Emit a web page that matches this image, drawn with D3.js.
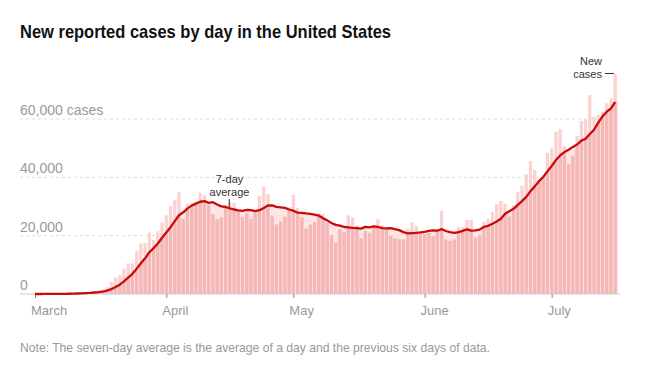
<!DOCTYPE html>
<html>
<head>
<meta charset="utf-8">
<script src="https://cdn.jsdelivr.net/npm/d3@7"></script>
<style>
  body { margin: 0; background: #fff; }
  text { font-family: "Liberation Sans", Arial, sans-serif; }
</style>
</head>
<body>
<script>
// new reported cases per day, starting March 1
const marchCases = [10, 20, 25, 30, 60, 80, 100, 120, 190, 290, 380, 480, 650, 700, 950, 1200,
    1600, 2300, 4200, 5700, 6500, 8700, 10500, 10500, 14700, 17300, 17500, 21100, 18500, 21500, 24500];
const aprilCases = [27000, 30200, 32200, 35000, 25700, 30900, 31100, 31800, 34700, 33900, 30500, 27400,
    25600, 26300, 30400, 31300, 31300, 28500, 26300, 27700, 25800, 27900, 33600, 36800, 34300, 26800,
    23800, 24800, 26500, 29800];
const mayCases = [34000, 29500, 26300, 22400, 23800, 24600, 27700, 27500, 24400, 20200, 17600, 22200,
    21200, 27000, 26200, 23600, 19100, 21700, 21000, 23600, 25600, 23600, 22700, 20000, 19100, 18800,
    18700, 22400, 24600, 23300, 21000];
const juneCases = [20500, 20900, 19900, 21700, 28500, 18700, 18200, 18700, 22900, 22900, 25400, 25400,
    19300, 20200, 24800, 25700, 28000, 30800, 31900, 31000, 26500, 30400, 35100, 37100, 41100, 45600,
    42500, 39000, 40500, 48400];
const julyCases = [49900, 55600, 56600, 50700, 44500, 47300, 54200, 59300, 59900, 68200, 60800, 61400,
    62500, 65400, 67100, 75400];

// 7-day average, as drawn
const marchAvg = [0, 0, 10, 10, 20, 30, 50, 60, 90, 120, 170, 230, 320, 400, 520, 660, 850, 1130, 1660,
    2380, 3210, 4310, 5640, 6910, 8690, 10560, 12240, 14330, 15730, 17300, 19300];
const aprilAvg = [21060, 22900, 25000, 26990, 28010, 29360, 30300, 30990, 31630, 31870, 31230, 31470,
    30710, 30030, 29830, 29340, 28970, 28690, 28530, 28830, 28760, 28400, 28730, 29510, 30340, 30410,
    29860, 29710, 29510, 28970];
const mayAvg = [28570, 27890, 27810, 27610, 27470, 27200, 26900, 25970, 25240, 24370, 23690, 23460,
    22970, 22870, 22690, 22570, 22410, 23000, 22830, 23170, 22970, 22600, 22470, 22600, 22230, 21910,
    21210, 20760, 20900, 20990, 21130];
const juneAvg = [21330, 21630, 21800, 21700, 22260, 21600, 21200, 20940, 21230, 21660, 22190, 21740,
    21830, 22110, 22990, 23390, 24110, 24890, 25810, 27490, 28390, 29190, 30530, 31830, 33300, 35260,
    36900, 38690, 40130, 42030];
const julyAvg = [43860, 45930, 47500, 48670, 49460, 50430, 51260, 52600, 53210, 54870, 56310, 58730,
    60900, 62500, 63610, 65830];

const monthLabels = ["March", "April", "May", "June", "July"];
const yTicks = [0, 20000, 40000, 60000];

const startDate = new Date(2020, 2, 1);
const svgWidth = 660;
const svgHeight = 367;

let buildData = () => {
    const cases = [].concat(marchCases, aprilCases, mayCases, juneCases, julyCases);
    const avg = [].concat(marchAvg, aprilAvg, mayAvg, juneAvg, julyAvg);
    return cases.map((c, i) => ({date: d3.timeDay.offset(startDate, i), cases: c, avg: avg[i]}));
}

// two stacked annotation lines
let twoLineLabel = (svg, x, y, lines, anchor) => {
    svg.selectAll(null).data(lines).enter()
        .append('text')
        .attr('x', x).attr('y', (d, i) => y + i * 13)
        .attr('text-anchor', anchor)
        .style('font-size', '11px').attr('fill', '#333')
        .text(d => d);
}

let main = () => {
    const data = buildData();
    const svg = d3.select('body').append('svg')
        .attr('width', svgWidth)
        .attr('height', svgHeight);

    const x = d3.scaleTime()
        .domain([startDate, data[data.length - 1].date])
        .range([35, 615.2]);
    const y = d3.scaleLinear().domain([0, 60000]).range([294, 119]);
    const barW = 3.3;

    // title
    svg.append('text')
        .attr('x', 20).attr('y', 38)
        .attr('textLength', 371).attr('lengthAdjust', 'spacingAndGlyphs')
        .style('font-family', '"Liberation Sans Narrow", "Liberation Sans", sans-serif')
        .style('font-weight', 'bold').style('font-size', '19px').attr('fill', '#121212')
        .text('New reported cases by day in the United States');

    // gridlines + y labels
    svg.selectAll('.grid').data(yTicks.filter(d => d > 0)).enter()
        .append('line')
        .attr('x1', 20).attr('x2', 620)
        .attr('y1', d => y(d)).attr('y2', d => y(d))
        .attr('stroke', '#ddd').attr('stroke-dasharray', '3,3');

    svg.selectAll('.ylab').data(yTicks).enter()
        .append('text')
        .attr('x', 20).attr('y', d => y(d) - 4)
        .attr('fill', '#999').style('font-size', '14px')
        .text(d => d3.format(',')(d) + (d === 60000 ? ' cases' : ''));

    // area under the average (light fill + clip for darker bars)
    const pts = data.map(d => [x(d.date), y(d.avg)]);
    pts.unshift([pts[0][0] - 3, pts[0][1]]);
    pts.push([pts[pts.length - 1][0] + 3, pts[pts.length - 1][1]]);
    const area = d3.area().x(p => p[0]).y0(y(0)).y1(p => p[1]);

    svg.append('clipPath').attr('id', 'under')
        .append('path').attr('d', area(pts));

    svg.append('path').attr('d', area(pts)).attr('fill', '#fde5e5');

    svg.append('g').selectAll('rect').data(data).enter()
        .append('rect')
        .attr('x', d => x(d.date) - barW / 2)
        .attr('width', barW)
        .attr('y', d => y(d.cases))
        .attr('height', d => y(0) - y(d.cases))
        .attr('fill', '#fbd1d1');

    svg.append('g').attr('clip-path', 'url(#under)')
        .selectAll('rect').data(data).enter()
        .append('rect')
        .attr('x', d => x(d.date) - barW / 2)
        .attr('width', barW)
        .attr('y', d => y(d.cases))
        .attr('height', d => y(0) - y(d.cases))
        .attr('fill', '#f5b6b6');

    // baseline and x axis
    svg.append('line')
        .attr('x1', 20).attr('x2', 620)
        .attr('y1', y(0)).attr('y2', y(0))
        .attr('stroke', '#ccc');

    const monthStarts = monthLabels.map((m, i) => new Date(2020, 2 + i, 1));
    const xAxis = svg.append('g')
        .attr('transform', `translate(0,${y(0)})`)
        .call(d3.axisBottom(x).tickValues(monthStarts).tickSize(4)
            .tickFormat((d, i) => monthLabels[i]));
    xAxis.select('.domain').remove();
    xAxis.selectAll('.tick line').attr('stroke', '#888');
    xAxis.selectAll('.tick text')
        .attr('text-anchor', 'start').attr('x', -4.5).attr('y', 12).attr('dy', '0.71em')
        .attr('fill', '#999').style('font-size', '13px')
        .style('font-family', '"Liberation Sans", Arial, sans-serif');

    // 7-day average line
    const line = d3.line().x(d => x(d.date)).y(d => y(d.avg));
    svg.append('path').datum(data)
        .attr('d', line)
        .attr('fill', 'none')
        .attr('stroke', '#c80c0c')
        .attr('stroke-width', 2.3)
        .attr('stroke-linejoin', 'round');

    // annotations
    twoLineLabel(svg, 229.5, 182.5, ['7-day', 'average'], 'middle');
    svg.append('line').attr('x1', 229.3).attr('x2', 229.3).attr('y1', 199).attr('y2', 207)
        .attr('stroke', '#333');

    twoLineLabel(svg, 602, 64.5, ['New', 'cases'], 'end');
    svg.append('line').attr('x1', 605).attr('x2', 614).attr('y1', 73.5).attr('y2', 73.5)
        .attr('stroke', '#333');

    // footnote
    svg.append('text')
        .attr('x', 20).attr('y', 352)
        .attr('textLength', 470).attr('lengthAdjust', 'spacingAndGlyphs')
        .style('font-family', '"Liberation Sans Narrow", "Liberation Sans", sans-serif')
        .style('font-size', '13px').attr('fill', '#999')
        .text('Note: The seven-day average is the average of a day and the previous six days of data.');
}

main()
</script>
</body>
</html>
